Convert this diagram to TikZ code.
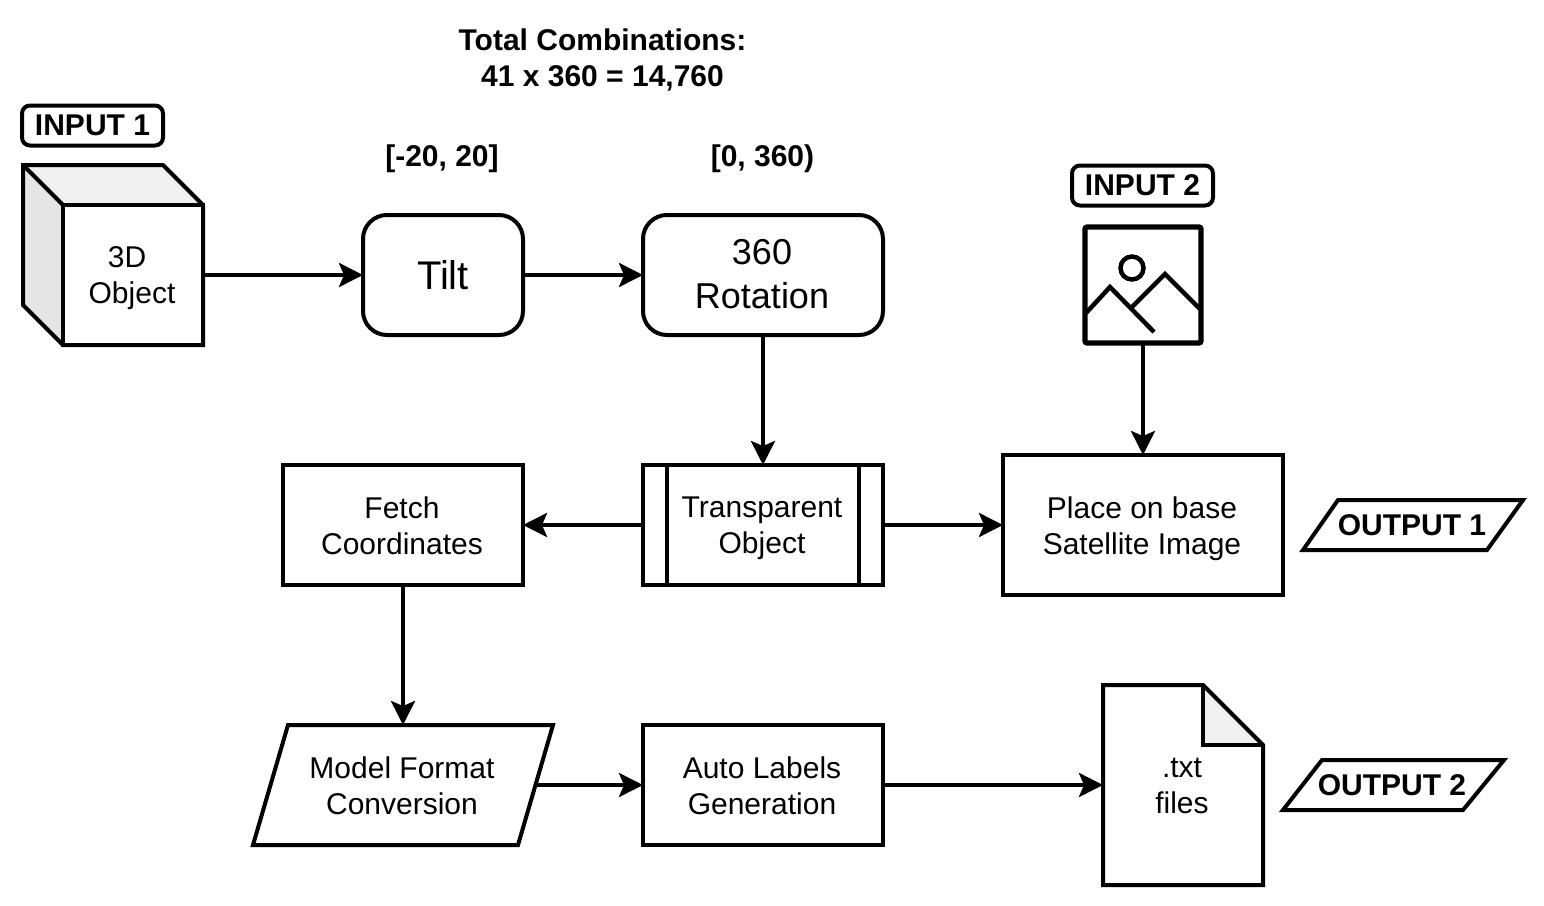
\documentclass[tikz,border=0pt]{standalone}
\usepackage{fontspec}
\setmainfont{Liberation Sans}
\usetikzlibrary{arrows.meta}
\newcommand{\shl}[1]{\raisebox{-0.5pt}{#1\kern1pt}}
\newcommand{\shr}[1]{#1\kern1pt}
\newcommand{\shf}[1]{\raisebox{-1pt}{#1\kern1pt}}
\tikzset{
  x=0.5pt,y=-0.5pt,
  every node/.style={inner sep=0pt,outer sep=0pt,align=center,text=black},
  txt/.style={font=\fontsize{15}{18}\selectfont,text depth=0pt},
  txtbig/.style={font=\fontsize{18}{22}\selectfont,text depth=1pt},
  txthuge/.style={font=\fontsize{20}{24}\selectfont},
  boldtxt/.style={font=\fontsize{15}{18}\selectfont\bfseries},
  outl/.style={draw=black,line width=2pt,line join=miter},
  boxn/.style={outl,txt,minimum width=#1*0.5pt},
  tag/.style={outl,boldtxt,rounded corners=4pt,minimum width=70.5pt,minimum height=20pt},
  conn/.style={line width=2pt,draw=black,-{Stealth[length=12pt,width=12pt,inset=2.5pt]}},
}
\begin{document}
\begin{tikzpicture}
\useasboundingbox (0,0) rectangle (1544,906);
% titles
\node[boldtxt] (total) at (602.5,59.5) {Total Combinations:\\41 x 360 = 14,760};
\node[boldtxt] (rangea) at (442,159) {[-20, 20]};
\node[boldtxt] (rangeb) at (762.5,159) {[0, 360)};
% input tags
\node[tag] (inputa) at (92.5,125.5) {INPUT 1};
\node[tag] (inputb) at (1142.5,185.5) {INPUT 2};
% cube
\fill[black!10] (23,165) -- (63,205) -- (63,345) -- (23,305) -- cycle;
\fill[black!6] (23,165) -- (163,165) -- (203,205) -- (63,205) -- cycle;
\draw[outl] (23,165) -- (163,165) -- (203,205) -- (203,345) -- (63,345) -- (23,305) -- cycle;
\draw[outl] (23,165) -- (63,205);
\node[outl,txt,minimum width=70pt,minimum height=70pt] (cube) at (133,275) {\raisebox{-0.5pt}{3D\hspace{6pt}}\\\shl{Object}};
% process row 1
\node[outl,txthuge,rounded corners=12pt,minimum width=80pt,minimum height=60pt] (tilt) at (443,275) {Tilt};
\node[outl,txtbig,rounded corners=12pt,minimum width=120pt,minimum height=60pt] (rot) at (763,275) {\shr{360}\\\shr{Rotation}};
% image icon
\node[draw=black,line width=2.6pt,rounded corners=1pt,minimum width=58pt,minimum height=58pt] (img) at (1143,285) {};
\draw[line width=2.25pt,draw=black] (1132,268) circle[radius=11.5];
\draw[line width=2.25pt,draw=black,line join=miter] (1086,313) -- (1110,287) -- (1154,332);
\draw[line width=2.25pt,draw=black,line join=miter] (1132,307) -- (1165,274) -- (1200,309);
% row 2
\node[boxn=240,minimum height=60pt] (fetch) at (403,525) {\shl{Fetch}\\\shl{Coordinates}};
\node[boxn=240,minimum height=60pt] (trans) at (763,525) {\shl{Transparent}\\\shl{Object}};
\draw[outl] (667,465) -- (667,585) (859,465) -- (859,585);
\node[boxn=280,minimum height=70pt] (place) at (1143,525) {\shl{Place on base}\\\shl{Satellite Image}};
\draw[outl] (1303,550) -- (1338,500) -- (1523,500) -- (1487,550) -- cycle;
\node[boldtxt] (outa) at (1412,525.5) {OUTPUT 1};
% row 3
\draw[outl] (253,845) -- (288,725) -- (553,725) -- (518,845) -- cycle;
\node[txt,minimum width=132pt,minimum height=60pt] (model) at (403,785) {\shl{Model Format}\\\shl{Conversion}};
\node[boxn=240,minimum height=60pt] (auto) at (763,785) {\shl{Auto Labels}\\\shl{Generation}};
% file
\fill[black!6] (1203,685) -- (1263,745) -- (1203,745) -- cycle;
\draw[outl] (1103,685) -- (1203,685) -- (1263,745) -- (1263,885) -- (1103,885) -- cycle;
\draw[outl] (1203,685) -- (1203,745) -- (1263,745);
\node[txt,minimum width=80pt,minimum height=100pt] (file) at (1183,785) {\shf{.txt}\\\shf{files}};
\draw[outl] (1283,810) -- (1322,760) -- (1504,760) -- (1463,810) -- cycle;
\node[boldtxt] (outb) at (1392,785.5) {OUTPUT 2};
% connectors
\draw[conn] (cube) -- (tilt);
\draw[conn] (tilt) -- (rot);
\draw[conn] (rot) -- (trans);
\draw[conn] (img) -- (place);
\draw[conn] (trans) -- (fetch);
\draw[conn] (trans) -- (place);
\draw[conn] (fetch) -- (model);
\draw[conn] (model) -- (auto);
\draw[conn] (auto) -- (file);
\end{tikzpicture}
\end{document}
